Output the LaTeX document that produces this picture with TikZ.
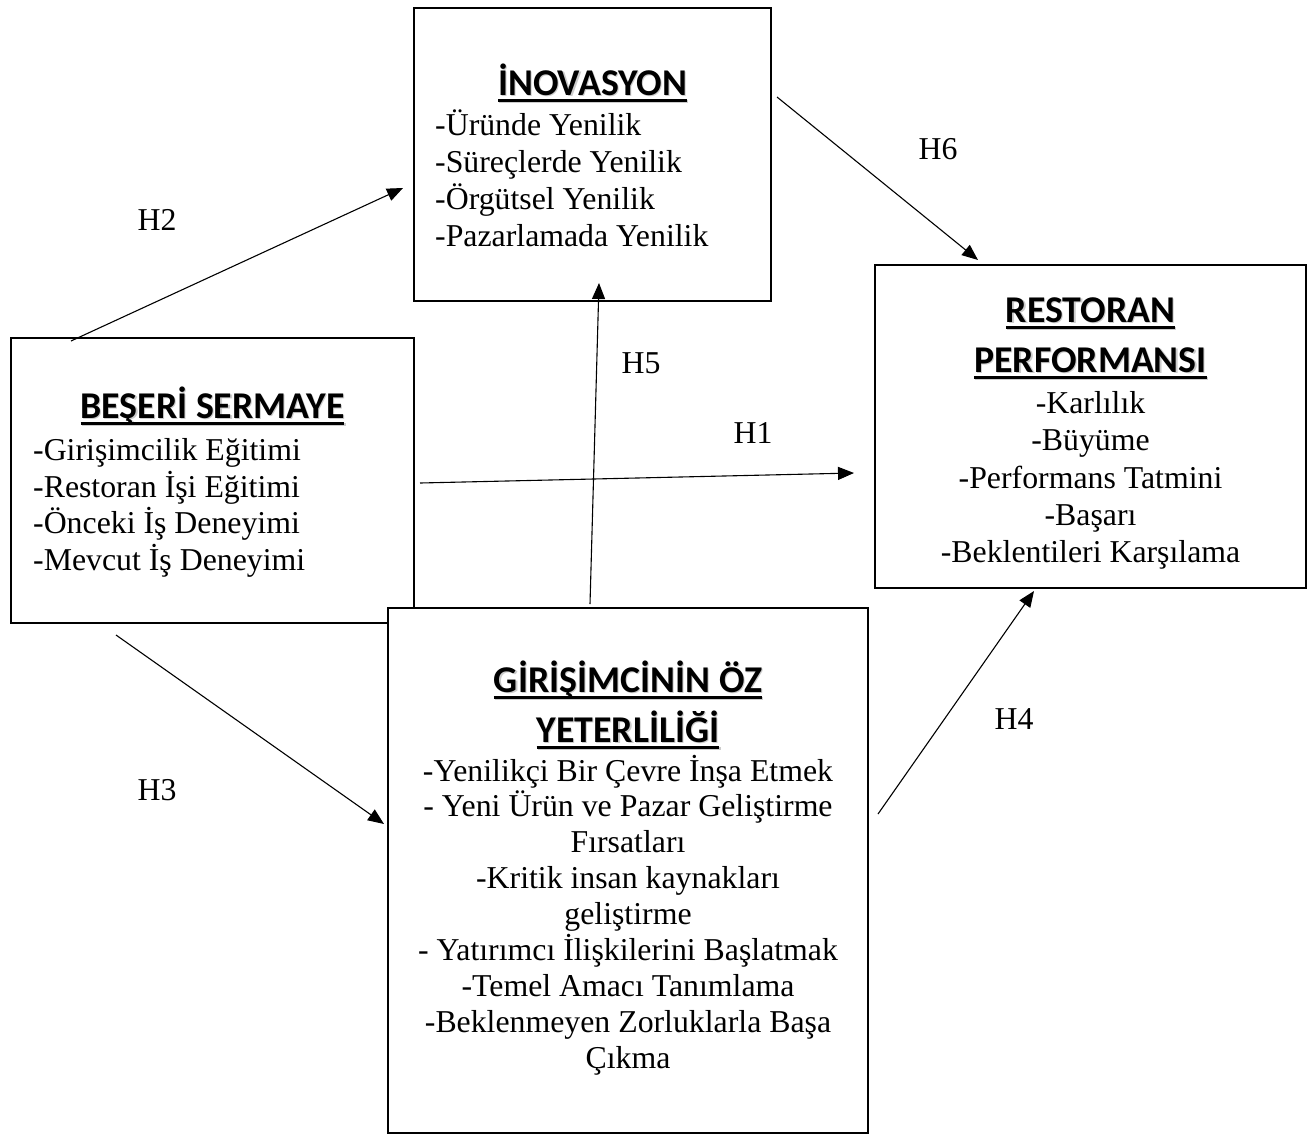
\documentclass[tikz,border=0pt]{standalone}
\usepackage{fontspec}
\setmainfont{Liberation Serif}
\newfontfamily\headfont{Carlito}
\usetikzlibrary{calc,arrows.meta}

% bold underlined heading with a soft grey drop shadow
\newcommand\headtext[1]{%
  \setbox0=\hbox{#1}%
  \rlap{\kern1.2pt\raisebox{-1.2pt}{\color{black!20}\copy0}}%
  \rlap{\kern1.2pt\raisebox{-1.2pt}{\color{black!20}\rule[-6.6pt]{\wd0}{3pt}}}%
  \rlap{\rule[-6.6pt]{\wd0}{3pt}}%
  \box0}

\tikzset{
  box/.style={draw, line width=2.5pt, rectangle, anchor=north west,
    inner sep=0pt, outer sep=0pt, fill=white},
  head/.style={font=\headfont\bfseries\fontsize{37.8}{44}\selectfont,
    anchor=base, inner sep=0pt},
  body/.style={font=\fontsize{31.8}{37}\selectfont, inner sep=0pt},
  hyp/.style={font=\fontsize{31.8}{37}\selectfont, anchor=base, inner sep=0pt},
  link/.style={line width=1.1pt, -{Triangle[length=16pt,width=13pt]}},
}

\begin{document}
\begin{tikzpicture}[x=1pt,y=-1pt]
\useasboundingbox (0,0) rectangle (1316,1135);

% boxes
\node[box, minimum width=357pt, minimum height=293pt] (inov) at (414,8) {};
\node[box, minimum width=431pt, minimum height=323pt] (rest) at (875,265) {};
\node[box, minimum width=403pt, minimum height=285pt] (bes) at (11,338) {};
\node[box, minimum width=480pt, minimum height=525pt] (gir) at (388,608) {};

% connector end points
\coordinate (h2a) at ($(bes.north west)+(60,3)$);
\coordinate (h2b) at ($(inov.west)+(-11,33.5)$);
\coordinate (h6a) at ($(inov.north east)+(6,89)$);
\coordinate (h6b) at ($(rest.north west)+(103,-5)$);
\coordinate (h5a) at ($(gir.north)+(-38,-4)$);
\coordinate (h5b) at ($(inov.south)+(6.5,-18)$);
\coordinate (h1a) at ($(bes.east)+(6,2.5)$);
\coordinate (h1b) at ($(rest.west)+(-21,46.5)$);
\coordinate (h3a) at ($(bes.south west)+(105,12)$);
\coordinate (h3b) at ($(gir.west)+(-4,-46.5)$);
\coordinate (h4a) at ($(gir.east)+(10,-56.5)$);
\coordinate (h4b) at ($(rest.south west)+(159,3)$);

% hypotheses
\draw[link] (h2a) -- (h2b);
\draw[link] (h6a) -- (h6b);
\draw[link] (h5a) -- (h5b);
\draw[link] (h1a) -- (h1b);
\draw[link] (h3a) -- (h3b);
\draw[link] (h4a) -- (h4b);

\node[hyp] (lh1) at (753,443) {H1};
\node[hyp] (lh2) at (157,230) {H2};
\node[hyp] (lh3) at (157,800) {H3};
\node[hyp] (lh4) at (1014,729) {H4};
\node[hyp] (lh5) at (641,373) {H5};
\node[hyp] (lh6) at (938,159) {H6};

% İnovasyon
\node[head] (inovh) at (592.5,95) {\headtext{İNOVASYON}};
\foreach \t [count=\i] in {{-Üründe Yenilik},{-Süreçlerde Yenilik},
    {-Örgütsel Yenilik},{-Pazarlamada Yenilik}}
  \node[body, anchor=base west] (inov-\i) at (435,{135+37.3*(\i-1)}) {\t};

% Restoran performansı
\node[head] (resth1) at (1090.5,322) {\headtext{RESTORAN}};
\node[head] (resth2) at (1090.5,372) {\headtext{PERFORMANSI}};
\foreach \t [count=\i] in {{-Karlılık},{-Büyüme},{-Performans Tatmini},
    {-Başarı},{-Beklentileri Karşılama}}
  \node[body, anchor=base] (rest-\i) at (1090.5,{413.5+37.3*(\i-1)}) {\t};

% Beşeri sermaye
\node[head] (besh) at (212.5,418) {\headtext{BEŞERİ SERMAYE}};
\foreach \t [count=\i] in {{-Girişimcilik Eğitimi},{-Restoran İşi Eğitimi},
    {-Önceki İş Deneyimi},{-Mevcut İş Deneyimi}}
  \node[body, anchor=base west] (bes-\i) at (33,{460.5+36.7*(\i-1)}) {\t};

% Girişimcinin öz yeterliliği
\node[head] (girh1) at (628,692) {\headtext{GİRİŞİMCİNİN ÖZ}};
\node[head] (girh2) at (628,742) {\headtext{YETERLİLİĞİ}};
\foreach \t [count=\i] in {{-Yenilikçi Bir Çevre İnşa Etmek},
    {- Yeni Ürün ve Pazar Geliştirme},{Fırsatları},
    {-Kritik insan kaynakları},{geliştirme},
    {- Yatırımcı İlişkilerini Başlatmak},{-Temel Amacı Tanımlama},
    {-Beklenmeyen Zorluklarla Başa},{Çıkma}}
  \node[body, anchor=base] (gir-\i) at (628,{781+35.9*(\i-1)}) {\t};
\end{tikzpicture}
\end{document}
